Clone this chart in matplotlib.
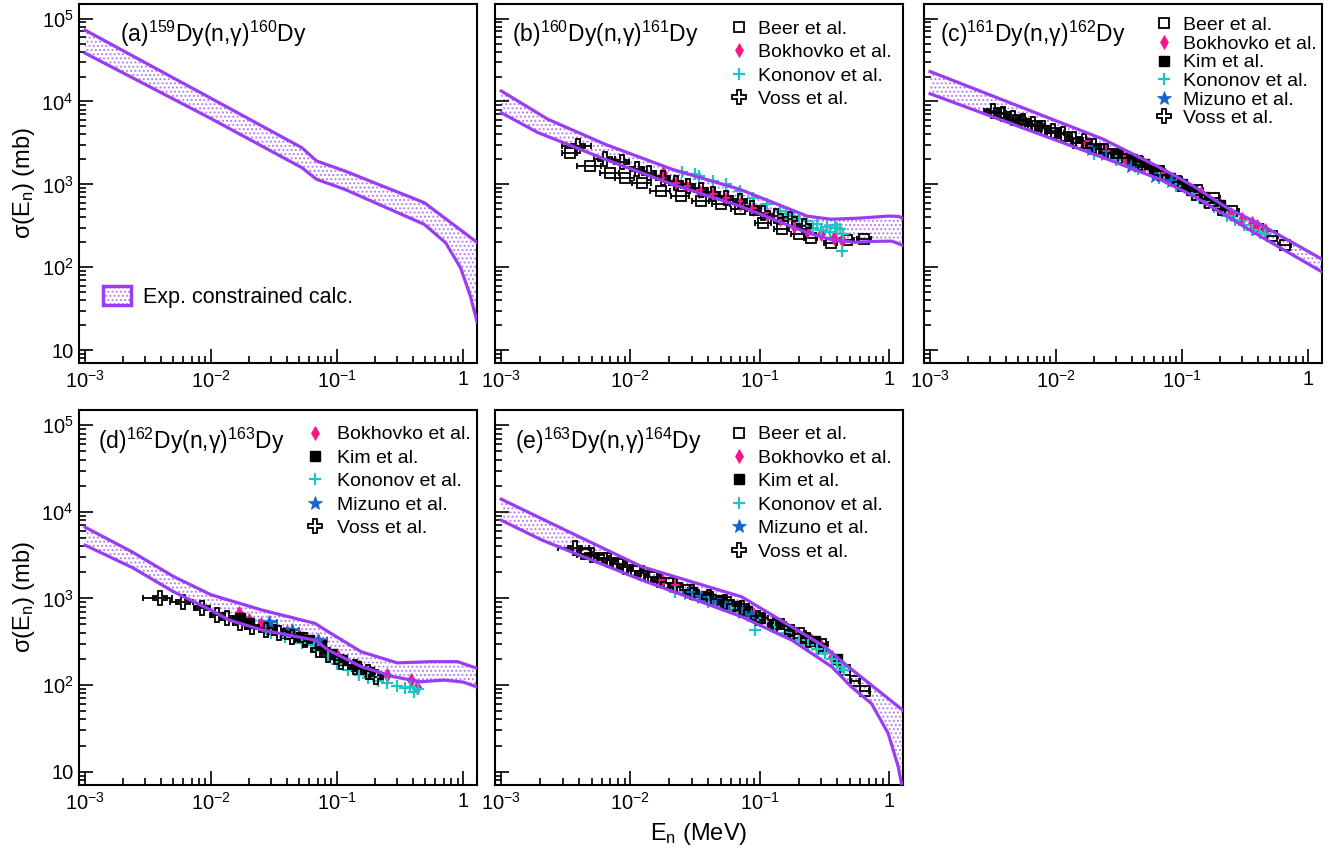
import numpy as np
import matplotlib
matplotlib.use('Agg')
import matplotlib.pyplot as plt
from matplotlib.lines import Line2D
from matplotlib.patches import Patch
from matplotlib.legend_handler import HandlerTuple
from matplotlib.ticker import LogLocator, FuncFormatter, NullFormatter

plt.rcParams['font.family'] = ['Liberation Sans', 'DejaVu Sans']
plt.rcParams['mathtext.fontset'] = 'custom'
plt.rcParams['mathtext.rm'] = 'Liberation Sans'
plt.rcParams['mathtext.it'] = 'Liberation Sans:italic'
plt.rcParams['mathtext.bf'] = 'Liberation Sans:bold'
plt.rcParams['hatch.linewidth'] = 0.9

BAND = '#9a3df2'
DOTS = '#b27af0'

# ---- calculated bands (E in MeV, sigma in mb) ----
a_up_E = [1e-3, 0.01, 0.0524, 0.0687, 0.115, 0.491, 1.285]
a_up_s = [72600, 10900, 2770, 1915, 1450, 601, 200]
a_lo_E = [1e-3, 0.01, 0.0524, 0.0687, 0.115, 0.491, 0.726, 0.953, 1.14, 1.285]
a_lo_s = [38300, 6200, 1590, 1150, 870, 329, 197, 98, 44.7, 22]

b_up_E = [1e-3, 2.3e-3, 6.38e-3, 0.0211, 0.0702, 0.128, 0.233, 0.354, 0.6, 1.0, 1.2, 1.285]
b_up_s = [13400, 6100, 3043, 1517, 871, 601, 414, 380, 392, 415, 410, 385]
b_lo_E = [1e-3, 1.92e-3, 6.38e-3, 0.0211, 0.0702, 0.128, 0.233, 0.354, 0.55, 0.77, 1.05, 1.285]
b_lo_s = [7310, 4220, 2005, 1000, 547, 378, 261, 216, 200, 205, 207, 183]

c_up_E = [1e-3, 0.0237, 0.0668, 0.123, 0.226, 0.416, 1.285]
c_up_s = [23000, 3500, 1592, 953, 523, 329, 125]
c_lo_E = [1e-3, 0.0237, 0.0668, 0.123, 0.226, 0.416, 1.285]
c_lo_s = [12400, 2100, 1150, 722, 414, 237, 88]

d_up_E = [1e-3, 2.4e-3, 5e-3, 0.01, 0.0254, 0.0667, 0.0849, 0.155, 0.3, 0.55, 0.9, 1.285]
d_up_s = [6650, 3400, 1800, 1100, 733, 515, 412, 242, 180, 186, 186, 156]
d_lo_E = [1e-3, 2.4e-3, 5e-3, 0.01, 0.0139, 0.0254, 0.0667, 0.0849, 0.155, 0.284, 0.461, 0.705, 1.0, 1.285]
d_lo_s = [4120, 2250, 1200, 730, 562, 431, 330, 253, 163, 124, 109, 114, 108, 95]

e_up_E = [1e-3, 3.14e-3, 0.01228, 0.0726, 0.177, 0.319, 0.484, 1.285]
e_up_s = [14000, 6140, 2320, 1043, 470, 277, 163, 51]
e_lo_E = [1e-3, 2.07e-3, 0.01228, 0.0726, 0.177, 0.36, 0.513, 0.733, 0.986, 1.18, 1.25]
e_lo_s = [8000, 4710, 1626, 614, 330, 163, 95, 61, 27.7, 11.4, 7.3]

# ---- experimental data ----
beer_b_E = [3.40e-3, 4.87e-3, 6.98e-3, 9.15e-3, 0.01233, 0.01715, 0.0246, 0.0352, 0.0505, 0.0702, 0.1066, 0.15, 0.2, 0.25, 0.354, 0.478, 0.645]
beer_b_s = [2417, 1663, 1384, 1204, 1049, 830, 722, 629, 573, 499, 344, 290, 255, 228, 197, 212, 221]
beer_b_dE = [0.45e-3, 1.0e-3, 1.2e-3, 1.5e-3, 2e-3, 3e-3, 4e-3, 5e-3, 8e-3, 0.01, 0.015, 0.02, 0.025, 0.03, 0.04, 0.06, 0.08]
bok_b_E = [0.0177, 0.0225, 0.0269, 0.0342, 0.0434, 0.0552, 0.0702, 0.0891, 0.1134, 0.144, 0.183, 0.233, 0.296, 0.376, 0.437]
bok_b_s = [1384, 1049, 953, 830, 757, 659, 573, 499, 434, 378, 314, 273, 249, 227, 216]
kon_b_E = [0.0251, 0.0318, 0.0342, 0.0434, 0.0552, 0.0702, 0.0891, 0.1134, 0.144, 0.16, 0.183, 0.2, 0.233, 0.26, 0.279, 0.3, 0.334, 0.35, 0.38, 0.40, 0.42, 0.437, 0.44]
kon_b_s = [1409, 1321, 1260, 1096, 1000, 830, 690, 573, 476, 440, 414, 380, 361, 300, 329, 280, 308, 270, 320, 300, 290, 156, 250]
voss_b_E = [3.94e-3, 6.38e-3, 8.6e-3, 0.0113, 0.0139, 0.0177, 0.0225, 0.0277, 0.0352, 0.0434, 0.0552, 0.0702, 0.0868, 0.1066, 0.1347, 0.172, 0.219]
voss_b_s = [2904, 2047, 1858, 1517, 1384, 1204, 1049, 953, 853, 757, 690, 629, 523, 455, 414, 378, 314]
voss_b_dE = [1e-3, 1.2e-3, 1.2e-3, 1.3e-3, 1.5e-3, 2e-3, 2.5e-3, 3e-3, 4e-3, 5e-3, 5e-3, 8e-3, 0.01, 0.01, 0.012, 0.015, 0.02]

beer_c_E = [3.5e-3, 5e-3, 7e-3, 0.01, 0.015, 0.022, 0.03, 0.045, 0.065, 0.09, 0.13, 0.18, 0.25, 0.40, 0.515, 0.656]
beer_c_s = [7300, 6000, 5000, 4200, 3200, 2700, 2300, 1850, 1450, 1100, 850, 680, 480, 286, 237, 188]
beer_c_dE = [0.5e-3, 0.8e-3, 1e-3, 1.5e-3, 2e-3, 3e-3, 4e-3, 5e-3, 8e-3, 0.01, 0.015, 0.02, 0.03, 0.05, 0.06, 0.08]
bok_c_E = [0.0175, 0.025, 0.035, 0.05, 0.07, 0.1, 0.14, 0.2, 0.246, 0.3, 0.356, 0.39, 0.45]
bok_c_s = [3190, 2600, 2100, 1700, 1300, 1000, 780, 560, 434, 380, 344, 314, 280]
kim_c_E = [0.03, 0.04, 0.05, 0.06, 0.08, 0.1, 0.12, 0.15, 0.2]
kim_c_s = [2300, 2000, 1750, 1500, 1200, 1000, 850, 700, 560]
kon_c_E = [0.02, 0.03, 0.045, 0.065, 0.09, 0.12, 0.148, 0.18, 0.226, 0.26, 0.307, 0.36, 0.416, 0.45]
kon_c_s = [2350, 1950, 1550, 1200, 960, 760, 620, 530, 420, 370, 320, 285, 260, 250]
miz_c_E = [0.019, 0.0243, 0.0395, 0.0606, 0.0821]
miz_c_s = [2650, 2300, 1663, 1260, 1096]
voss_c_E = [3.18e-3, 3.82e-3, 4.58e-3, 5.5e-3, 6.61e-3, 7.93e-3, 9.52e-3, 0.01143, 0.01374, 0.0165, 0.02, 0.025, 0.0322, 0.0464, 0.0668, 0.0964, 0.123, 0.157, 0.2]
voss_c_s = [7690, 7010, 6390, 5830, 5310, 4840, 4410, 4020, 3560, 3330, 2900, 2500, 2200, 1828, 1384, 1000, 793, 629, 523]
voss_c_dE = [0.5e-3, 0.5e-3, 0.5e-3, 0.5e-3, 0.6e-3, 0.7e-3, 1e-3, 1e-3, 1.2e-3, 1.5e-3, 2e-3, 2.5e-3, 3e-3, 5e-3, 8e-3, 0.01, 0.012, 0.015, 0.02]

bok_d_E = [0.0166, 0.02, 0.025, 0.03, 0.04, 0.05, 0.07, 0.1, 0.15, 0.25, 0.385, 0.43]
bok_d_s = [671, 560, 500, 460, 410, 370, 320, 220, 160, 130, 114, 96]
kim_d_E = [0.017, 0.02, 0.03, 0.04, 0.05, 0.06, 0.075, 0.09, 0.11, 0.14, 0.18]
kim_d_s = [600, 520, 440, 400, 360, 330, 290, 230, 195, 165, 140]
kon_d_E = [0.03, 0.0386, 0.0522, 0.065, 0.0849, 0.1, 0.122, 0.15, 0.175, 0.21, 0.25, 0.3, 0.342, 0.38, 0.41, 0.44]
kon_d_s = [400, 361, 303, 290, 212, 175, 149, 130, 119, 110, 105, 98, 92, 95, 84, 90]
miz_d_E = [0.0286, 0.0436, 0.0708]
miz_d_s = [537, 431, 330]
miz_d_dE = [4.8e-3, 6e-3, 0.012]
voss_d_E = [3.9e-3, 5.94e-3, 8.54e-3, 0.01122, 0.01344, 0.017, 0.0211, 0.027, 0.0343, 0.0436, 0.0557, 0.0708, 0.0849, 0.108, 0.138, 0.175, 0.204]
voss_d_s = [1000, 914, 767, 642, 587, 520, 470, 431, 394, 361, 330, 253, 222, 186, 163, 142, 124]
voss_d_dE = [1e-3, 1.2e-3, 1.2e-3, 1.3e-3, 1.5e-3, 2e-3, 2.5e-3, 2.5e-3, 4e-3, 5e-3, 5e-3, 8e-3, 0.01, 0.01, 0.012, 0.015, 0.02]

beer_e_E = [4.5e-3, 6e-3, 8e-3, 0.011, 0.015, 0.02, 0.028, 0.04, 0.055, 0.075, 0.1, 0.14, 0.2, 0.3, 0.46, 0.55, 0.65]
beer_e_s = [3300, 2900, 2500, 2100, 1750, 1500, 1250, 1050, 900, 760, 600, 500, 400, 300, 150, 112, 86]
beer_e_dE = [0.5e-3, 0.8e-3, 1e-3, 1.5e-3, 2e-3, 3e-3, 4e-3, 5e-3, 8e-3, 0.01, 0.015, 0.02, 0.03, 0.04, 0.04, 0.04, 0.05]
bok_e_E = [0.0175, 0.022, 0.03, 0.04, 0.06, 0.09, 0.13, 0.18, 0.25, 0.3, 0.36, 0.4]
bok_e_s = [1626, 1450, 1200, 1050, 850, 650, 520, 420, 330, 280, 212, 190]
kim_e_E = [0.03, 0.04, 0.05, 0.065, 0.08, 0.1, 0.13, 0.17, 0.22, 0.27, 0.3, 0.4]
kim_e_s = [1200, 1050, 950, 820, 720, 600, 500, 420, 350, 320, 270, 200]
kon_e_E = [0.022, 0.03, 0.04, 0.06, 0.092, 0.1, 0.13, 0.16, 0.2, 0.238, 0.28, 0.319, 0.36, 0.4, 0.43, 0.45]
kon_e_s = [1191, 1100, 914, 780, 431, 560, 470, 400, 330, 289, 260, 232, 200, 180, 163, 150]
miz_e_E = [0.028, 0.035, 0.045, 0.055, 0.0726, 0.085]
miz_e_s = [1142, 1050, 955, 850, 701, 640]
voss_e_E = [3.75e-3, 5.05e-3, 6.79e-3, 9.13e-3, 0.01228, 0.0165, 0.0222, 0.0299, 0.0402, 0.054, 0.0726, 0.0977, 0.131, 0.177, 0.238]
voss_e_s = [3780, 3160, 2770, 2320, 1942, 1626, 1422, 1191, 1043, 914, 767, 587, 492, 412, 330]
voss_e_dE = [1e-3, 1.2e-3, 1.2e-3, 1.3e-3, 1.5e-3, 2e-3, 2.5e-3, 3e-3, 4e-3, 5e-3, 8e-3, 0.01, 0.012, 0.015, 0.02]

STYLE = {
    'Beer et al.':     dict(marker='s', ms=7.5, mfc='none', mec='black', mew=1.3),
    'Bokhovko et al.': dict(marker='d', ms=7, mfc='#f5168c', mec='#f5168c', mew=0.5),
    'Kim et al.':      dict(marker='s', ms=6.5, mfc='black', mec='black'),
    'Kononov et al.':  dict(marker='+', ms=8, mew=1.6, color='#1fc4c4'),
    'Mizuno et al.':   dict(marker='*', ms=10, color='#1566c9', mew=0.5),
    'Voss et al.':     dict(marker='P', ms=10, mfc='none', mec='black', mew=1.3),
}

XLIM = (8.95e-4, 1.285)
YLIM = (7, 1.5e5)
cols = [(79, 477), (495, 903), (924, 1322)]
rows = [(4, 363), (410, 785)]
W, H = 1339, 849

fig = plt.figure(figsize=(W / 100, H / 100), dpi=100)


def make_ax(r, c):
    (x0, x1), (y0, y1) = cols[c], rows[r]
    return fig.add_axes([x0 / W, 1 - y1 / H, (x1 - x0) / W, (y1 - y0) / H])


def logfmt(v, pos):
    e = int(round(np.log10(v)))
    if e == 0:
        return '1'
    if e == 1:
        return '10'
    return r'$10^{%d}$' % e


def setup(ax, ylabels):
    ax.set_xscale('log')
    ax.set_yscale('log')
    ax.set_xlim(*XLIM)
    ax.set_ylim(*YLIM)
    for a in (ax.xaxis, ax.yaxis):
        a.set_major_locator(LogLocator(base=10, numticks=12))
        a.set_minor_locator(LogLocator(base=10, subs=np.arange(2, 10), numticks=40))
        a.set_major_formatter(FuncFormatter(logfmt))
        a.set_minor_formatter(NullFormatter())
    ax.tick_params(which='both', direction='in', top=False, right=False,
                   labelsize=14.5, width=1.2)
    ax.tick_params(which='major', length=10)
    ax.tick_params(which='minor', length=5)
    ax.tick_params(axis='x', pad=5)
    ax.tick_params(axis='y', pad=4, labelleft=ylabels)
    for s in ax.spines.values():
        s.set_linewidth(1.5)
    if ylabels:
        ax.set_ylabel(r'σ(E$_{\rm n}$) (mb)', fontsize=17)
        ax.yaxis.set_label_coords(-0.105, 0.5)


def draw_band(ax, eu, su, el, sl):
    ax.fill(np.r_[eu, el[::-1]], np.r_[su, sl[::-1]], facecolor='none',
            edgecolor=DOTS, hatch='....', linewidth=0, zorder=1)
    ax.plot(eu, su, color=BAND, lw=2.3, zorder=6, solid_joinstyle='round')
    ax.plot(el, sl, color=BAND, lw=2.3, zorder=6, solid_joinstyle='round')


def draw_set(ax, name, E, s, dE=None, ecol='black'):
    if dE is not None:
        ax.errorbar(E, s, xerr=dE, fmt='none', ecolor=ecol, elinewidth=1.3,
                    capsize=2.5, capthick=1.3, zorder=3)
    ax.plot(E, s, ls='none', zorder=4, **STYLE[name])


def data_legend(ax, names, x0, y0, spacing, pad):
    handles = [Line2D([], [], ls='none', **STYLE[n]) for n in names]
    ax.legend(handles, names, loc='upper left', bbox_to_anchor=(x0, y0),
              frameon=False, fontsize=14, handlelength=1.0, handletextpad=pad,
              labelspacing=spacing, borderpad=0, borderaxespad=0)


def title(ax, x, text):
    ax.text(x, 0.895, text, transform=ax.transAxes, fontsize=16.5, va='baseline')


# (a)
ax = make_ax(0, 0)
setup(ax, True)
draw_band(ax, a_up_E, a_up_s, a_lo_E, a_lo_s)
title(ax, 0.103, r'(a)$^{159}$Dy(n,γ)$^{160}$Dy')
h_fill = Patch(facecolor='white', edgecolor=DOTS, hatch='....', linewidth=0)
h_edge = Patch(facecolor='none', edgecolor=BAND, linewidth=2.5)
ax.legend([(h_fill, h_edge)], ['Exp. constrained calc.'], loc='center left',
          bbox_to_anchor=(0.06, 0.184), frameon=False, fontsize=15.5,
          handlelength=1.3, handleheight=1.0, handletextpad=0.56,
          borderpad=0, borderaxespad=0,
          handler_map={tuple: HandlerTuple(ndivide=1, pad=0)})

# (b)
ax = make_ax(0, 1)
setup(ax, False)
draw_band(ax, b_up_E, b_up_s, b_lo_E, b_lo_s)
draw_set(ax, 'Beer et al.', beer_b_E, beer_b_s, beer_b_dE)
draw_set(ax, 'Bokhovko et al.', bok_b_E, bok_b_s)
draw_set(ax, 'Kononov et al.', kon_b_E, kon_b_s)
draw_set(ax, 'Voss et al.', voss_b_E, voss_b_s, voss_b_dE)
title(ax, 0.042, r'(b)$^{160}$Dy(n,γ)$^{161}$Dy')
data_legend(ax, ['Beer et al.', 'Bokhovko et al.', 'Kononov et al.', 'Voss et al.'],
            0.575, 0.955, 0.30, 0.48)

# (c)
ax = make_ax(0, 2)
setup(ax, False)
draw_band(ax, c_up_E, c_up_s, c_lo_E, c_lo_s)
draw_set(ax, 'Beer et al.', beer_c_E, beer_c_s, beer_c_dE)
draw_set(ax, 'Bokhovko et al.', bok_c_E, bok_c_s)
draw_set(ax, 'Kim et al.', kim_c_E, kim_c_s)
draw_set(ax, 'Kononov et al.', kon_c_E, kon_c_s)
draw_set(ax, 'Mizuno et al.', miz_c_E, miz_c_s)
draw_set(ax, 'Voss et al.', voss_c_E, voss_c_s, voss_c_dE)
title(ax, 0.04, r'(c)$^{161}$Dy(n,γ)$^{162}$Dy')
data_legend(ax, ['Beer et al.', 'Bokhovko et al.', 'Kim et al.', 'Kononov et al.',
                 'Mizuno et al.', 'Voss et al.'], 0.579, 0.965, 0.05, 0.48)

# (d)
ax = make_ax(1, 0)
setup(ax, True)
draw_band(ax, d_up_E, d_up_s, d_lo_E, d_lo_s)
draw_set(ax, 'Bokhovko et al.', bok_d_E, bok_d_s)
draw_set(ax, 'Kim et al.', kim_d_E, kim_d_s)
draw_set(ax, 'Kononov et al.', kon_d_E, kon_d_s)
draw_set(ax, 'Mizuno et al.', miz_d_E, miz_d_s, miz_d_dE, ecol='#1566c9')
draw_set(ax, 'Voss et al.', voss_d_E, voss_d_s, voss_d_dE)
title(ax, 0.048, r'(d)$^{162}$Dy(n,γ)$^{163}$Dy')
data_legend(ax, ['Bokhovko et al.', 'Kim et al.', 'Kononov et al.', 'Mizuno et al.',
                 'Voss et al.'], 0.569, 0.958, 0.30, 0.62)

# (e)
ax = make_ax(1, 1)
setup(ax, False)
draw_band(ax, e_up_E, e_up_s, e_lo_E, e_lo_s)
draw_set(ax, 'Beer et al.', beer_e_E, beer_e_s, beer_e_dE)
draw_set(ax, 'Bokhovko et al.', bok_e_E, bok_e_s)
draw_set(ax, 'Kim et al.', kim_e_E, kim_e_s)
draw_set(ax, 'Kononov et al.', kon_e_E, kon_e_s)
draw_set(ax, 'Mizuno et al.', miz_e_E, miz_e_s)
draw_set(ax, 'Voss et al.', voss_e_E, voss_e_s, voss_e_dE)
title(ax, 0.049, r'(e)$^{163}$Dy(n,γ)$^{164}$Dy')
data_legend(ax, ['Beer et al.', 'Bokhovko et al.', 'Kim et al.', 'Kononov et al.',
                 'Mizuno et al.', 'Voss et al.'], 0.575, 0.958, 0.30, 0.48)
ax.set_xlabel(r'E$_{\rm n}$ (MeV)', fontsize=17)
ax.xaxis.set_label_coords(0.5, -0.095)

fig.savefig('out.png', dpi=100)
